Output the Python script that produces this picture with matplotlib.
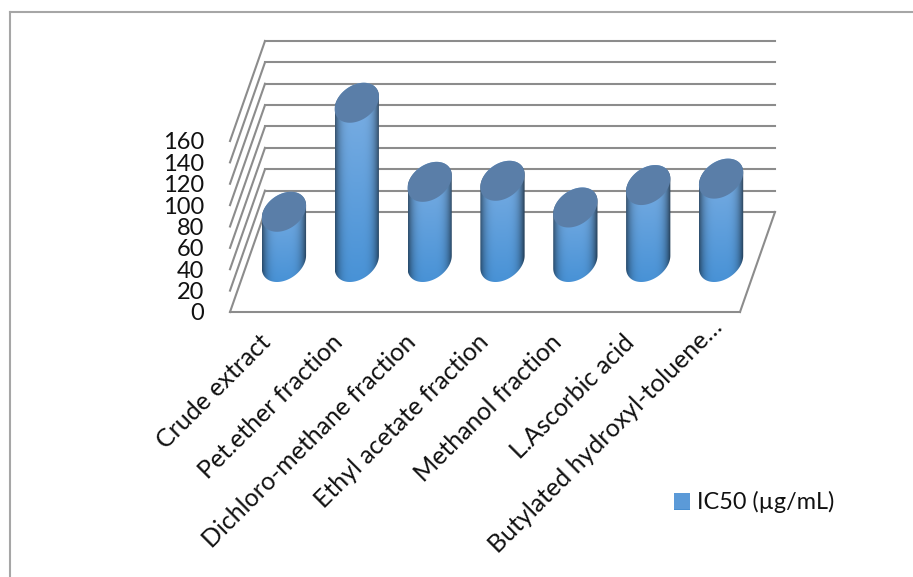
#!/usr/bin/env python3

"""
IC50 of the extract fractions, drawn as an oblique 3D cylinder chart.
"""

import matplotlib
matplotlib.use("Agg")
import matplotlib.pyplot as plt
import numpy as np
from matplotlib.lines import Line2D
from matplotlib.patches import Patch, PathPatch, Polygon
from matplotlib.path import Path
from matplotlib.transforms import ScaledTranslation

# Data
CATEGORIES = [
    "Crude extract",
    "Pet.ether fraction",
    "Dichloro-methane fraction",
    "Ethyl acetate fraction",
    "Methanol fraction",
    "L.Ascorbic acid",
    "Butylated hydroxyl-toluene…",
]
IC50_VALUES = [47, 149, 75, 76, 51, 72, 78]
Y_TICKS = [0, 20, 40, 60, 80, 100, 120, 140, 160]
SERIES_NAME = "IC50 (µg/mL)"

# Figure layout, in pixels
WIDTH, HEIGHT = 913, 577
LEFT, RIGHT = 230, 740
FLOOR_Y, TOP_Y = 312, 141
DEPTH_PX = (35, 100)
RADIUS_PX = 21
GRID_COLOR = "#8c8c8c"
FRAME_COLOR = "#a6a6a6"
CAP_COLOR = "#5a7ea8"

plt.rcParams["font.family"] = ["Lato", "DejaVu Sans"]

fig = plt.figure(figsize=(WIDTH / 100, HEIGHT / 100), dpi=100)
ax = fig.add_axes([LEFT / WIDTH, 1 - FLOOR_Y / HEIGHT,
                   (RIGHT - LEFT) / WIDTH, (FLOOR_Y - TOP_Y) / HEIGHT])
ax.set_xlim(0, len(CATEGORIES))
ax.set_ylim(0, Y_TICKS[-1])
ax.patch.set_visible(False)
for spine in ax.spines.values():
    spine.set_visible(False)

# Pixel sizes converted into data units
x_unit = (RIGHT - LEFT) / len(CATEGORIES)
y_unit = (FLOOR_Y - TOP_Y) / Y_TICKS[-1]
depth_x = DEPTH_PX[0] / x_unit
depth_y = DEPTH_PX[1] / y_unit
radius = RADIUS_PX / x_unit
half_depth = 0.2


def line(xs, ys):
    ax.add_line(Line2D(xs, ys, color=GRID_COLOR, lw=1.5, clip_on=False, zorder=1))


def ring(center, value, angles):
    """Points of the cylinder's circular section at a given height"""
    x = center + depth_x * 0.5 + radius * np.cos(angles) + depth_x * half_depth * np.sin(angles)
    y = value + depth_y * 0.5 + depth_y * half_depth * np.sin(angles)
    return np.column_stack([x, y])


def body_shading():
    """Colour ramp for the cylinder side: dark edges, light upper part"""
    u = np.linspace(-1, 1, 120)
    v = np.linspace(0, 1, 120)
    uu, vv = np.meshgrid(u, v)
    top = np.array([126, 176, 228]) / 255
    bottom = np.array([72, 146, 214]) / 255
    rgb = top + (bottom - top) * vv[..., None]
    edge = np.clip(np.abs(uu + 0.03), 0, 1) ** 4
    rgb = rgb * (1 - 0.58 * edge[..., None])
    return rgb


# Back wall and floor
for tick in Y_TICKS:
    line([0 + depth_x, len(CATEGORIES) + depth_x], [tick + depth_y, tick + depth_y])
    line([0, depth_x], [tick, tick + depth_y])
line([0, len(CATEGORIES)], [0, 0])
line([len(CATEGORIES), len(CATEGORIES) + depth_x], [0, depth_y])

# Cylinders
shading = body_shading()
for i, value in enumerate(IC50_VALUES):
    center = i + 0.5
    # the silhouette extremes of the tilted ellipse
    side = np.arctan2(depth_x * half_depth, radius)
    lower = ring(center, 0, np.linspace(np.pi + side, 2 * np.pi + side, 60))
    upper = ring(center, value, np.linspace(side, np.pi + side, 60))
    outline = np.vstack([lower, upper])

    clip = PathPatch(Path(np.vstack([outline, outline[:1]]), closed=True),
                     transform=ax.transData, facecolor="none", edgecolor="none")
    ax.add_patch(clip)
    x_min, x_max = outline[:, 0].min(), outline[:, 0].max()
    y_min, y_max = outline[:, 1].min(), outline[:, 1].max()
    img = ax.imshow(shading, extent=[x_min, x_max, y_min, y_max], aspect="auto",
                    origin="upper", interpolation="bilinear", zorder=2 + i)
    # the tallest cylinder rises above the axes box, so only the outline clips it
    img.set_clip_box(fig.bbox)
    img.set_clip_path(clip)

    cap = ring(center, value, np.linspace(0, 2 * np.pi, 120))
    ax.add_patch(Polygon(cap, closed=True, facecolor=CAP_COLOR, edgecolor="none",
                         clip_on=False, zorder=2 + i))

ax.set_xlim(0, len(CATEGORIES))
ax.set_ylim(0, Y_TICKS[-1])

# Axis labels
ax.set_xticks(np.arange(len(CATEGORIES)) + 0.5)
ax.set_xticklabels(CATEGORIES, rotation=45, ha="right", va="center",
                   rotation_mode="anchor", fontsize=18, color="#111111")
ax.set_yticks(Y_TICKS)
ax.set_yticklabels([str(t) for t in Y_TICKS], fontsize=17, color="#111111")
ax.tick_params(axis="x", length=0, pad=19)
ax.tick_params(axis="y", length=0, pad=18.5)

# The truncated last label sits further along its diagonal
last_label = ax.get_xticklabels()[-1]
last_label.set_transform(last_label.get_transform()
                         + ScaledTranslation(15 / 100, 15 / 100, fig.dpi_scale_trans))

# Outer chart border runs off the top right and bottom left
fig.add_artist(Line2D([10 / WIDTH, 10 / WIDTH], [0, 1 - 12 / HEIGHT],
                      color=FRAME_COLOR, lw=1.5))
fig.add_artist(Line2D([10 / WIDTH, 1], [1 - 12 / HEIGHT, 1 - 12 / HEIGHT],
                      color=FRAME_COLOR, lw=1.5))

# Legend
handle = Patch(facecolor="#5b9ad8", edgecolor="none", label=SERIES_NAME)
fig.legend(handles=[handle], loc="center left", frameon=False, fontsize=16.8,
           bbox_to_anchor=(674 / WIDTH, 1 - 502 / HEIGHT),
           handlelength=0.69, handleheight=0.65, handletextpad=0.3, borderpad=0,
           borderaxespad=0, labelcolor="#111111")

# Gradient swatch laid over the legend key
key_ax = fig.add_axes([674 / WIDTH, 1 - 510 / HEIGHT, 16 / WIDTH, 16 / HEIGHT])
key_ax.imshow(np.linspace([112, 168, 222], [72, 142, 208], 16)[:, None] / 255, aspect="auto")
key_ax.axis("off")

fig.savefig("out.png", dpi=100)
